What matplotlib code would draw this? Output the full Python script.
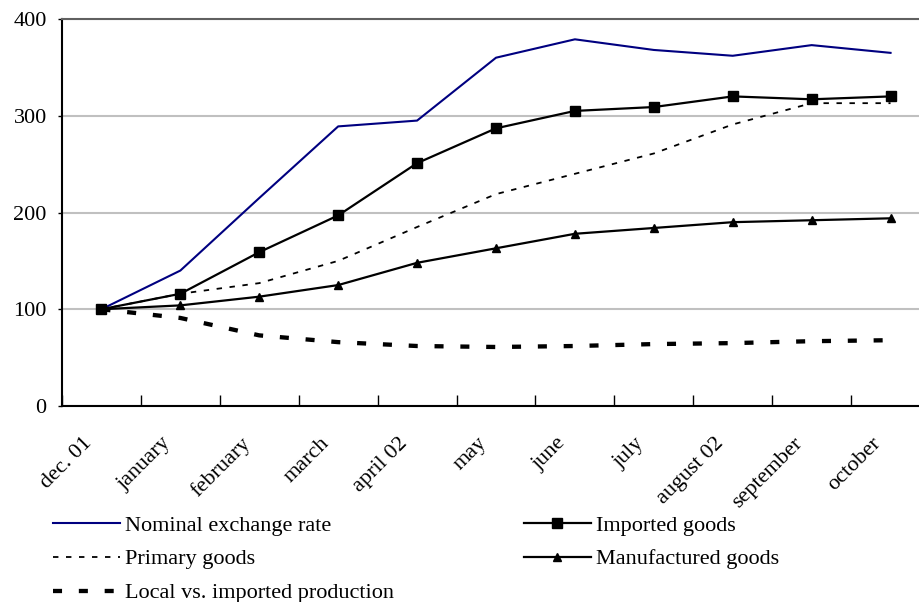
import numpy as np
import matplotlib
matplotlib.use('Agg')
import matplotlib.pyplot as plt
from matplotlib.transforms import ScaledTranslation

months = ['dec. 01', 'january', 'february', 'march', 'april 02', 'may',
          'june', 'july', 'august 02', 'september', 'october']
nominal = [100, 140, 215, 289, 295, 360, 379, 368, 362, 373, 365]
imported = [100, 116, 159, 197, 251, 287, 305, 309, 320, 317, 320]
primary = [100, 116, 127, 150, 185, 219, 240, 261, 291, 313, 313]
manufactured = [100, 104, 113, 125, 148, 163, 178, 184, 190, 192, 194]
local = [100, 91, 73, 66, 62, 61, 62, 64, 65, 67, 68]

plt.rcParams['font.family'] = ['Liberation Serif', 'DejaVu Serif']
plt.rcParams['font.size'] = 16

fig = plt.figure(figsize=(9.2, 6.02), dpi=100)
ax = fig.add_axes([62 / 920, 1 - 406 / 602, 868 / 920, 387 / 602])

x = np.arange(len(months))
h_nom, = ax.plot(x, nominal, color='#000080', lw=1.5, label='Nominal exchange rate')
h_prim, = ax.plot(x, primary, color='black', lw=1.3, linestyle=(0, (3.0, 4.2)),
                  label='Primary goods')
h_loc, = ax.plot(x, local, color='black', lw=3.1, linestyle=(0, (2.1, 3.9)),
                 label='Local vs. imported production')
h_imp, = ax.plot(x, imported, color='black', lw=1.6, marker='s', markersize=7,
                 label='Imported goods')
h_man, = ax.plot(x, manufactured, color='black', lw=1.6, marker='^', markersize=6,
                 label='Manufactured goods')

ax.set_xlim(-0.5, len(months) - 0.5)
ax.set_ylim(0, 400)
ax.set_yticks([0, 100, 200, 300, 400])
ax.yaxis.grid(True, color='#c0c0c0', lw=1.5)
ax.set_axisbelow(True)

# ticks sit between the months, labels at the month centres
ax.set_xticks(np.arange(len(months) + 1) - 0.5)
ax.set_xticklabels([])
lab_tr = ax.get_xaxis_transform() + ScaledTranslation(-0.12, -0.345, fig.dpi_scale_trans)
for xi, m in zip(x, months):
    ax.text(xi, 0, m, transform=lab_tr, rotation=45, ha='right', va='center',
            rotation_mode='anchor')
ax.tick_params(axis='x', which='major', direction='in', length=8, width=1)
ax.tick_params(axis='y', direction='out', length=3, width=1, pad=8)

ax.spines['left'].set_linewidth(1.5)
ax.spines['bottom'].set_linewidth(1.5)
ax.spines['top'].set_color('#606060')
ax.spines['top'].set_linewidth(1.5)
ax.spines['right'].set_visible(False)

fig.legend(handles=[h_nom, h_prim, h_loc, h_imp, h_man], ncol=2, frameon=False,
           loc='upper left', bbox_to_anchor=(53 / 920, 1 - 515 / 602),
           borderpad=0, borderaxespad=0,
           handlelength=3.0, handletextpad=0.25, columnspacing=5.84,
           labelspacing=0.6, fontsize=16)

fig.savefig('out.png', dpi=100)
